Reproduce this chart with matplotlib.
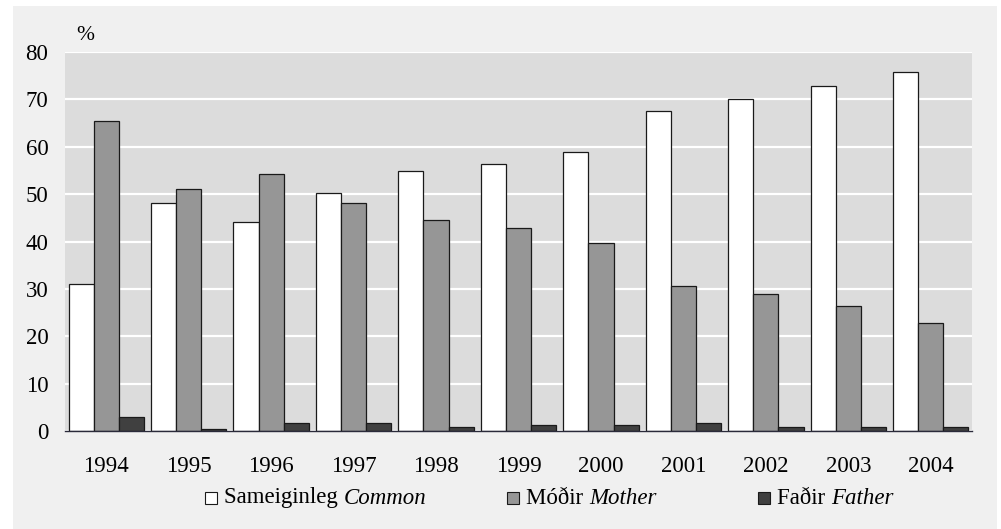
import matplotlib
matplotlib.use("Agg")
import matplotlib.pyplot as plt
import numpy as np
from matplotlib.patches import Rectangle

years = ["1994", "1995", "1996", "1997", "1998", "1999", "2000", "2001", "2002", "2003", "2004"]
common = [31.1, 48.1, 44.2, 50.2, 54.9, 56.3, 58.8, 67.5, 70.1, 72.8, 75.8]
mother = [65.4, 51.0, 54.2, 48.1, 44.5, 42.8, 39.7, 30.7, 29.0, 26.4, 22.9]
father = [3.0, 0.4, 1.6, 1.6, 0.8, 1.2, 1.2, 1.6, 0.8, 0.8, 0.8]
yticks = [0, 10, 20, 30, 40, 50, 60, 70, 80]
series_labels = [("Sameiginleg", "Common"), ("Móðir", "Mother"), ("Faðir", "Father")]
colors = ["#ffffff", "#969696", "#404040"]

plt.rcParams['font.family'] = ['Liberation Serif', 'DejaVu Serif']
FS = 16.5

W, H = 1001, 529
fig = plt.figure(figsize=(W / 100, H / 100), dpi=100)
fig.patch.set_facecolor("white")
fig.patches.append(Rectangle((13 / W, 0), (997 - 13) / W, (529 - 6) / H,
                             transform=fig.transFigure, facecolor="#f0f0f0",
                             edgecolor="none", zorder=-5))

ax = fig.add_axes([65 / W, (H - 431) / H, (972 - 65) / W, (431 - 52) / H])
ax.set_zorder(1)
ax.set_facecolor("#dcdcdc")

x = np.arange(len(years))
bw = 0.305
for i, (vals, c) in enumerate(zip([common, mother, father], colors)):
    ax.bar(x + (i - 1) * bw, vals, width=bw, color=c, edgecolor="#1a1a1a",
           linewidth=0.9, zorder=3)

ax.set_xlim(-0.5, len(years) - 0.5)
ax.set_ylim(0, 80)
ax.set_yticks(yticks)
ax.set_yticklabels([str(v) for v in yticks], fontsize=FS)
ax.set_xticks(x)
ax.set_xticklabels(years, fontsize=FS)
ax.tick_params(axis="y", length=0, pad=12)
ax.tick_params(axis="x", length=0, pad=18)
ax.yaxis.grid(True, color="white", linewidth=1.6, zorder=1)
ax.set_axisbelow(True)
for s in ["top", "right", "left"]:
    ax.spines[s].set_visible(False)
ax.spines["bottom"].set_color("#2a2a3a")
ax.spines["bottom"].set_linewidth(1.0)
ax.spines["bottom"].set_zorder(4)

fig.text(76 / W, 1 - 36 / H, "%", fontsize=FS - 1, va="center", ha="left")

# legend
fig.canvas.draw()
renderer = fig.canvas.get_renderer()
leg_x = [205, 507, 758]
ly = 498
sq = 12
for (reg, it), c, lx in zip(series_labels, colors, leg_x):
    fig.patches.append(Rectangle((lx / W, (H - ly - sq / 2) / H), sq / W, sq / H,
                                 transform=fig.transFigure, facecolor=c,
                                 edgecolor="#1a1a1a", linewidth=0.8, zorder=2))
    t = fig.text((lx + sq + 7) / W, 1 - ly / H, reg + " ", fontsize=FS,
                 va="center", ha="left")
    bb = t.get_window_extent(renderer)
    fig.text(bb.x1 / W, 1 - ly / H, it, fontsize=FS, style="italic",
             va="center", ha="left")

fig.savefig("out.png", dpi=100, facecolor=fig.get_facecolor())
